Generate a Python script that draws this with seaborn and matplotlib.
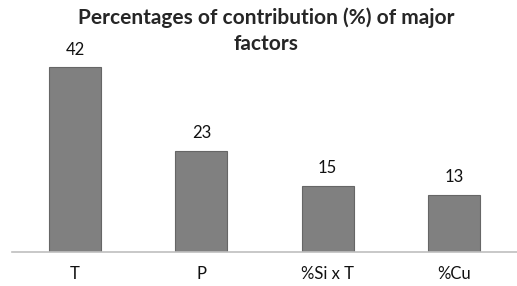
import pandas as pd
import seaborn as sns
import matplotlib.pyplot as plt

factors = ["T", "P", "%Si x T", "%Cu"]
contribution = [42, 23, 15, 13]

df = pd.DataFrame({"factor": factors, "contribution": contribution})

sns.set_style("white")
plt.rcParams["font.family"] = ["Lato", "DejaVu Sans"]

fig = plt.figure(figsize=(5.17, 2.86), dpi=100)
ax = fig.add_axes([12 / 517, 34 / 286, 505 / 517, 198 / 286])

sns.barplot(data=df, x="factor", y="contribution", color="#808080",
            width=0.41, edgecolor="#666666", linewidth=0.8, saturation=1, ax=ax)

for i, v in enumerate(contribution):
    ax.text(i, v + 2.2, str(v), ha="center", va="bottom", fontsize=12, color="#111111")

ax.set_ylim(0, 45)
ax.set_xlim(-0.5, 3.5)
ax.set_xlabel("")
ax.set_ylabel("")
ax.set_yticks([])
ax.tick_params(axis="x", length=0, pad=10, labelsize=12, colors="#111111")
for s in ["top", "right", "left"]:
    ax.spines[s].set_visible(False)
ax.spines["bottom"].set_color("#bfbfbf")
ax.spines["bottom"].set_linewidth(1.2)

# title split into two lines so the wrapped line stays narrow
fig.text(0.515, 1 - 18 / 286, "Percentages of contribution (%) of major", ha="center", va="center",
         fontsize=15, fontweight="bold")
fig.text(0.515, 1 - 44 / 286, "factors", ha="center", va="center",
         fontsize=15, fontweight="bold")

fig.savefig("out.png", dpi=100)
